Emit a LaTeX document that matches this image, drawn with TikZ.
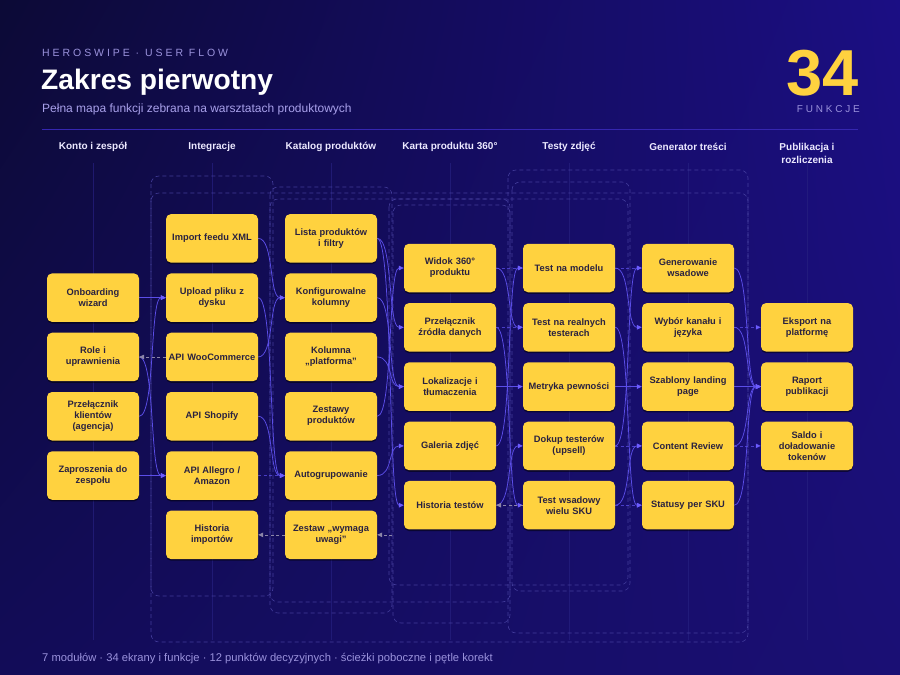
\documentclass[tikz,border=0pt]{standalone}
\usepackage{fontspec}
\setmainfont{Liberation Sans}
\newfontfamily\spacedfont[LetterSpace=28]{Liberation Sans}
\usetikzlibrary{arrows.meta,shadows,shadings}
\definecolor{bgA}{HTML}{0C0A36}
\definecolor{bgB}{HTML}{1B0E84}
\definecolor{bgC}{HTML}{120C58}
\definecolor{bgD}{HTML}{1A0F74}
\definecolor{nodeY}{HTML}{FFD23F}
\definecolor{nodeT}{HTML}{2A2240}
\definecolor{flowC}{HTML}{5B4EE8}
\definecolor{flowA}{HTML}{6C5CFF}
\definecolor{backC}{HTML}{8C86A8}
\definecolor{loopC}{HTML}{4A44A4}
\definecolor{laneC}{HTML}{262080}
\definecolor{lav}{HTML}{9A92DC}
\definecolor{lavB}{HTML}{A8A0EA}
\definecolor{ruleC}{HTML}{3526B0}
\definecolor{hdrC}{HTML}{ECE9FF}
\definecolor{gold}{HTML}{FFD23F}
\pgfdeclarelayer{bgl}
\pgfdeclarelayer{edges}
\pgfsetlayers{bgl,edges,main}
\tikzset{
  fn/.style={rectangle, rounded corners=5pt, fill=nodeY, minimum width=92pt, minimum height=48.5pt,
    text width=90pt, align=center, inner sep=0pt, text=nodeT,
    font=\bfseries\fontsize{9.3}{11}\selectfont,
    drop shadow={shadow xshift=0pt, shadow yshift=-1.6pt, opacity=0.5, fill=black}},
  hdr/.style={align=center, text=hdrC, font=\bfseries\fontsize{10}{13}\selectfont, inner sep=0pt},
  flow/.style={draw=flowC, line width=0.75pt, -{Triangle[length=5pt,width=4.6pt,color=flowA]}},
  flowdash/.style={dash pattern=on 3pt off 2.5pt, draw opacity=0.75},
  back/.style={draw=backC, line width=0.7pt, dash pattern=on 3pt off 2.5pt, -{Triangle[length=5pt,width=4.6pt,color=backC]}},
  loop/.style={draw=loopC, line width=0.6pt, dash pattern=on 4pt off 3pt, rounded corners=8pt, draw opacity=0.85},
  lane/.style={draw=laneC, line width=0.6pt, draw opacity=0.7},
}
\newcommand\cv[2]{\draw[flow] (#1.east) .. controls +(16,0) and +(-16,0) .. (#2.west);}
\newcommand\dv[2]{\draw[flow,flowdash] (#1.east) -- (#2.west);}
\newcommand\sv[2]{\draw[flow] (#1.east) -- (#2.west);}
\begin{document}
\begin{tikzpicture}[x=1pt,y=-1pt]
\useasboundingbox (0,0) rectangle (900,675);
\begin{pgfonlayer}{bgl}
\shade[upper left=bgA, upper right=bgB, lower left=bgC, lower right=bgD] (0,0) rectangle (900,675);
% lanes
\foreach \x in {93,212,331,450,569,688,807} { \draw[lane] (\x,163) -- (\x,640); }
% correction loops
\draw[loop] (151,176) rectangle (273,596);
\draw[loop] (151,193) rectangle (748,642);
\draw[loop] (270,187) rectangle (392,613);
\draw[loop] (270,199) rectangle (510,602);
\draw[loop] (389,199) rectangle (628,585);
\draw[loop] (393,205) rectangle (510,623);
\draw[loop] (508,170) rectangle (748,633);
\draw[loop] (512,182) rectangle (630,591);
\end{pgfonlayer}

% header
\node[anchor=base west, text=lav, font=\spacedfont\fontsize{10.5}{12}\selectfont, inner sep=0pt] (kick) at (42,56) {HEROSWIPE · USER FLOW};
\node[anchor=base west, text=white, font=\bfseries\fontsize{28.2}{30}\selectfont, inner sep=0pt] (title) at (41,89) {Zakres pierwotny};
\node[anchor=base west, text=lavB, font=\fontsize{12}{14}\selectfont, inner sep=0pt] (sub) at (42,112) {Pełna mapa funkcji zebrana na warsztatach produktowych};
\node[anchor=base east, text=gold, font=\bfseries\fontsize{65}{65}\selectfont, inner sep=0pt, text depth=0pt, text height=47pt] (num) at (859,95) {34};
\node[anchor=base east, text=lav, font=\spacedfont\fontsize{10}{12}\selectfont, inner sep=0pt] (fk) at (860,112) {FUNKCJE};
\coordinate (ruleL) at (42,129);
\coordinate (ruleR) at (858,129);
\draw[draw=ruleC, line width=0.8pt] (ruleL) -- (ruleR);

% column headers
\node[hdr] (h1) at (93,147) {Konto i zespół};
\node[hdr] (h2) at (212,147) {Integracje};
\node[hdr] (h3) at (331,147) {Katalog produktów};
\node[hdr] (h4) at (450,147) {Karta produktu 360°};
\node[hdr] (h5) at (569,147) {Testy zdjęć};
\node[hdr] (h6) at (688,147) {Generator treści};
\node[hdr] (h7) at (807,153.5) {Publikacja i\\rozliczenia};

% column 1
\node[fn] (onb)  at (93,297.65) {Onboarding\\wizard};
\node[fn] (role) at (93,356.95) {Role i\\uprawnienia};
\node[fn] (prz)  at (93,416.25) {Przełącznik\\klientów\\(agencja)};
\node[fn] (zap)  at (93,475.55) {Zaproszenia do\\zespołu};
% column 2
\node[fn] (imp)  at (212,238.35) {Import feedu XML};
\node[fn] (upl)  at (212,297.65) {Upload pliku z\\dysku};
\node[fn] (woo)  at (212,356.95) {API WooCommerce};
\node[fn] (shop) at (212,416.25) {API Shopify};
\node[fn] (alle) at (212,475.55) {API Allegro /\\Amazon};
\node[fn] (himp) at (212,534.85) {Historia\\importów};
% column 3
\node[fn] (lista) at (331,238.35) {Lista produktów\\i filtry};
\node[fn] (konf)  at (331,297.65) {Konfigurowalne\\kolumny};
\node[fn] (kol)   at (331,356.95) {Kolumna\\„platforma”};
\node[fn] (zest)  at (331,416.25) {Zestawy\\produktów};
\node[fn] (auto)  at (331,475.55) {Autogrupowanie};
\node[fn] (zwu)   at (331,534.85) {Zestaw „wymaga\\uwagi”};
% column 4
\node[fn] (widok) at (450,268.0) {Widok 360°\\produktu};
\node[fn] (przz)  at (450,327.3) {Przełącznik\\źródła danych};
\node[fn] (lok)   at (450,386.6) {Lokalizacje i\\tłumaczenia};
\node[fn] (gal)   at (450,445.9) {Galeria zdjęć};
\node[fn] (htest) at (450,505.2) {Historia testów};
% column 5
\node[fn] (tmod)  at (569,268.0) {Test na modelu};
\node[fn] (treal) at (569,327.3) {Test na realnych\\testerach};
\node[fn] (metr)  at (569,386.6) {Metryka pewności};
\node[fn] (dokup) at (569,445.9) {Dokup testerów\\(upsell)};
\node[fn] (twsad) at (569,505.2) {Test wsadowy\\wielu SKU};
% column 6
\node[fn] (gen)  at (688,268.0) {Generowanie\\wsadowe};
\node[fn] (wyb)  at (688,327.3) {Wybór kanału i\\języka};
\node[fn] (szab) at (688,386.6) {Szablony landing\\page};
\node[fn] (cont) at (688,445.9) {Content Review};
\node[fn] (stat) at (688,505.2) {Statusy per SKU};
% column 7
\node[fn] (eks)   at (807,327.3) {Eksport na\\platformę};
\node[fn] (rap)   at (807,386.6) {Raport\\publikacji};
\node[fn] (saldo) at (807,445.9) {Saldo i\\doładowanie\\tokenów};

\coordinate (zret) at (392,534.85);

\begin{pgfonlayer}{edges}
% col1 -> col2
\sv{onb}{upl}
\sv{zap}{alle}
\cv{prz}{upl}
\cv{role}{alle}
\draw[back] (woo.west) -- (role.east);
% col2 -> col3
\cv{imp}{konf}
\cv{upl}{auto}
\cv{woo}{konf}
\cv{shop}{auto}
\dv{alle}{auto}
\draw[back] (zwu.west) -- (himp.east);
% col3 -> col4
\cv{lista}{przz}
\cv{lista}{htest}
\cv{konf}{lok}
\cv{kol}{lok}
\cv{zest}{widok}
\cv{auto}{gal}
\draw[back] (zret) -- (zwu.east);
% col4 -> col5
\dv{widok}{tmod}
\cv{widok}{treal}
\dv{przz}{treal}
\cv{przz}{twsad}
\sv{lok}{metr}
\cv{gal}{tmod}
\cv{htest}{dokup}
\draw[back] (twsad.west) -- (htest.east);
% col5 -> col6
\cv{tmod}{wyb}
\dv{tmod}{gen}
\cv{treal}{stat}
\sv{metr}{szab}
\cv{dokup}{gen}
\dv{dokup}{cont}
\cv{twsad}{cont}
\dv{twsad}{stat}
% col6 -> col7
\cv{gen}{rap}
\dv{wyb}{eks}
\cv{wyb}{rap}
\sv{szab}{rap}
\dv{cont}{saldo}
\cv{cont}{rap}
\cv{stat}{rap}
\end{pgfonlayer}

% footer
\node[anchor=base west, text=lav, font=\fontsize{11.2}{13}\selectfont, inner sep=0pt] (foot) at (42,661) {7 modułów · 34 ekrany i funkcje · 12 punktów decyzyjnych · ścieżki poboczne i pętle korekt};
\end{tikzpicture}
\end{document}
